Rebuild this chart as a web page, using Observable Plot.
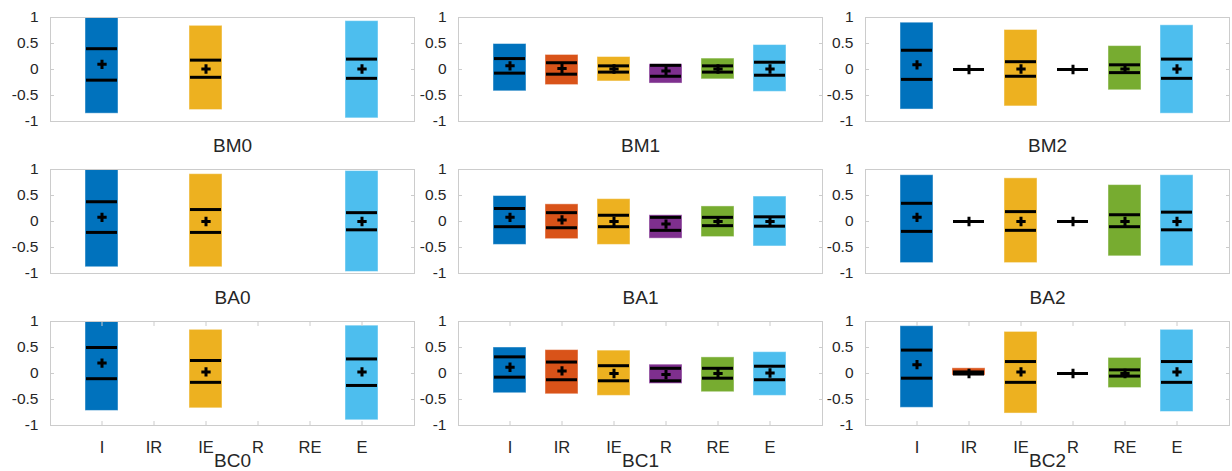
<!DOCTYPE html>
<html>
<head>
<meta charset="utf-8">
<script src="https://cdn.jsdelivr.net/npm/d3@7"></script>
<script src="https://cdn.jsdelivr.net/npm/@observablehq/plot@0.6"></script>
<style>
  body { margin: 0; background: white; }
  #wrap { position: relative; width: 1232px; height: 471px; overflow: hidden; background: white; }
  .cell { position: absolute; }
  .cell svg { max-width: none !important; overflow: visible; }
</style>
</head>
<body>
<div id="wrap"></div>
<script>
// ---- data ----
const categories = ["I", "IR", "IE", "R", "RE", "E"];
const colors = ["#0072BD", "#D95319", "#EDB120", "#7E2F8E", "#77AC30", "#4DBEEE"];
const yTicks = [-1, -0.5, 0, 0.5, 1];
const yTickLabels = ["-1", "-0.5", "0", "0.5", "1"];
const titles = ["BM0", "BM1", "BM2", "BA0", "BA1", "BA2", "BC0", "BC1", "BC2"];

// rows: [category, min, q1, mean, q3, max]
const BM0 = [["I", -0.85, -0.205, 0.10, 0.40, 1.00], ["IE", -0.78, -0.15, 0.01, 0.18, 0.84], ["E", -0.94, -0.17, 0.01, 0.20, 0.93]];
const BM1 = [["I", -0.42, -0.07, 0.07, 0.21, 0.49], ["IR", -0.30, -0.09, 0.02, 0.13, 0.28], ["IE", -0.23, -0.05, 0.01, 0.07, 0.24],
             ["R", -0.27, -0.13, -0.03, 0.08, 0.10], ["RE", -0.19, -0.05, 0.01, 0.07, 0.21], ["E", -0.43, -0.11, 0.01, 0.14, 0.47]];
const BM2 = [["I", -0.77, -0.19, 0.09, 0.37, 0.90], ["IR", 0, 0, 0, 0, 0], ["IE", -0.71, -0.13, 0.01, 0.15, 0.76],
             ["R", 0, 0, 0, 0, 0], ["RE", -0.40, -0.06, 0.01, 0.09, 0.45], ["E", -0.85, -0.17, 0.01, 0.20, 0.85]];
const BA0 = [["I", -0.88, -0.21, 0.08, 0.38, 0.99], ["IE", -0.88, -0.21, 0.00, 0.23, 0.91], ["E", -0.97, -0.16, 0.00, 0.17, 0.97]];
const BA1 = [["I", -0.45, -0.10, 0.08, 0.25, 0.49], ["IR", -0.34, -0.12, 0.03, 0.17, 0.33], ["IE", -0.45, -0.10, 0.00, 0.12, 0.43],
             ["R", -0.33, -0.17, -0.05, 0.08, 0.12], ["RE", -0.30, -0.08, 0.00, 0.08, 0.29], ["E", -0.48, -0.09, 0.00, 0.09, 0.48]];
const BA2 = [["I", -0.80, -0.19, 0.08, 0.35, 0.89], ["IR", 0, 0, 0, 0, 0], ["IE", -0.80, -0.17, 0.00, 0.19, 0.83],
             ["R", 0, 0, 0, 0, 0], ["RE", -0.67, -0.10, 0.00, 0.13, 0.70], ["E", -0.86, -0.16, 0.00, 0.18, 0.89]];
const BC0 = [["I", -0.72, -0.10, 0.20, 0.50, 1.00], ["IE", -0.67, -0.17, 0.03, 0.25, 0.84], ["E", -0.90, -0.23, 0.03, 0.28, 0.92]];
const BC1 = [["I", -0.38, -0.07, 0.12, 0.32, 0.50], ["IR", -0.40, -0.12, 0.05, 0.22, 0.45], ["IE", -0.43, -0.14, 0.00, 0.15, 0.44],
             ["R", -0.20, -0.14, -0.02, 0.10, 0.17], ["RE", -0.36, -0.09, 0.00, 0.10, 0.31], ["E", -0.43, -0.12, 0.01, 0.14, 0.41]];
const BC2 = [["I", -0.66, -0.09, 0.17, 0.45, 0.91], ["IR", -0.04, -0.01, 0.00, 0.03, 0.10], ["IE", -0.77, -0.17, 0.03, 0.23, 0.80],
             ["R", 0, 0, 0, 0, 0], ["RE", -0.28, -0.05, 0.00, 0.07, 0.30], ["E", -0.74, -0.17, 0.03, 0.23, 0.84]];

const panels = [BM0, BM1, BM2, BA0, BA1, BA2, BC0, BC1, BC2];

// ---- layout ----
const colLeft = [0, 408, 815];
const rowTop = [0, 152, 304];
const FONT = "'Liberation Sans', Arial, Helvetica, sans-serif";
const TXT = "#262626";
const EDGE = "#cccccc";

const wrap = document.getElementById("wrap");

panels.forEach((rows, i) => {
  const r = Math.floor(i / 3), c = i % 3;
  const bottomRow = r === 2;
  const data = rows.map(([cat, min, q1, mean, q3, max]) => ({cat, min, q1, mean, q3, max}));
  const height = bottomRow ? 167 : 152;
  const marks = [
    Plot.barY(data, {x: "cat", y1: "min", y2: "max", fill: "cat", stroke: "white", strokeOpacity: 0.45, strokeWidth: 1}),
    Plot.tickY(data, {x: "cat", y: "q1", stroke: "black", strokeWidth: 3, insetLeft: 1, insetRight: 1}),
    Plot.tickY(data, {x: "cat", y: "q3", stroke: "black", strokeWidth: 3, insetLeft: 1, insetRight: 1}),
    Plot.dot(data, {x: "cat", y: "mean", symbol: "plus", r: 3.1, stroke: "black", strokeWidth: 3}),
    Plot.frame({stroke: EDGE}),
    Plot.axisY(yTicks, {anchor: "left", tickSize: 0, tickPadding: 12, fontSize: 15.5, color: TXT, label: null,
      tickFormat: d => yTickLabels[yTicks.indexOf(d)]}),
    Plot.axisY(yTicks, {anchor: "left", tickSize: 4, dx: 4, tickFormat: () => "", stroke: EDGE, label: null}),
    Plot.axisY(yTicks, {anchor: "right", tickSize: 4, dx: -4, tickFormat: () => "", stroke: EDGE, label: null}),
    Plot.text([titles[i]], {frameAnchor: "bottom", dy: bottomRow ? 35 : 24, fontSize: 19, fill: TXT, lineAnchor: "middle"})
  ];
  if (bottomRow) {
    marks.push(
      Plot.axisX(categories, {anchor: "bottom", tickSize: 0, tickPadding: 16, fontSize: 16.5, color: TXT, label: null}),
      Plot.axisX(categories, {anchor: "bottom", tickSize: 4, dy: -4, tickFormat: () => "", stroke: EDGE, label: null}),
      Plot.axisX(categories, {anchor: "top", tickSize: 4, dy: 4, tickFormat: () => "", stroke: EDGE, label: null})
    );
  }
  const chart = Plot.plot({
    width: 417,
    height,
    marginLeft: 50,
    marginRight: 3,
    marginTop: 17,
    marginBottom: height - 17 - 104,
    style: {fontFamily: FONT, background: "transparent", overflow: "visible"},
    x: {type: "band", domain: categories, paddingInner: 0.365, paddingOuter: 0.6825, axis: bottomRow ? undefined : null, label: null},
    y: {domain: [-1, 1], label: null},
    color: {domain: categories, range: colors},
    marks
  });
  const div = document.createElement("div");
  div.className = "cell";
  div.style.left = colLeft[c] + "px";
  div.style.top = rowTop[r] + "px";
  div.appendChild(chart);
  wrap.appendChild(div);
});
</script>
</body>
</html>
